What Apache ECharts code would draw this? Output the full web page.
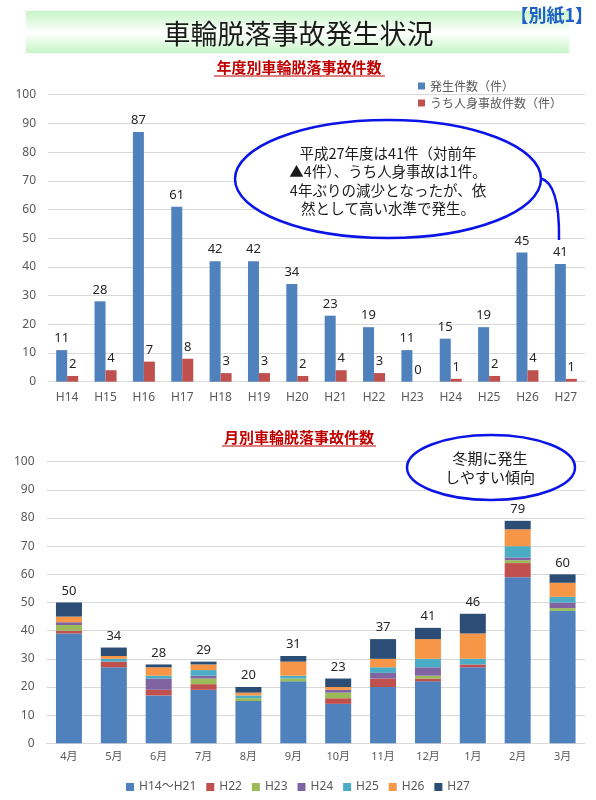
<!DOCTYPE html>
<html><head><meta charset="utf-8">
<script src="https://cdn.jsdelivr.net/npm/echarts@6/dist/echarts.min.js"></script>
<style>html,body{margin:0;padding:0;background:#fff}#c{width:596px;height:800px}</style>
</head><body><div id="c"></div>
<script>
const yearCats = ['H14','H15','H16','H17','H18','H19','H20','H21','H22','H23','H24','H25','H26','H27'];
const yearTotal = [11,28,87,61,42,42,34,23,19,11,15,19,45,41];
const yearInjury = [2,4,7,8,3,3,2,4,3,0,1,2,4,1];
const monthCats = ['4月','5月','6月','7月','8月','9月','10月','11月','12月','1月','2月','3月'];
const mH14_21 = [39,27,17,19,15,22,14,20,22,27,59,47];
const mH22 =    [1,2,2,2,0,0,2,3,1,1,5,0];
const mH23 =    [2,0,0,2,1,1,2,0,1,0,1,1];
const mH24 =    [1,0,4,1,0,0,1,2,3,0,1,2];
const mH25 =    [0,1,1,2,1,1,0,2,3,2,4,2];
const mH26 =    [2,1,3,2,1,5,1,3,7,9,6,5];
const mH27 =    [5,3,1,1,2,2,3,7,4,7,3,3];
const monthTotal = [50,34,28,29,20,31,23,37,41,46,79,60];
const yTicks = [0,10,20,30,40,50,60,70,80,90,100];

const FF = '"Noto Sans", "Noto Sans CJK JP", sans-serif';
const JP = '"Noto Sans CJK JP", sans-serif';
const C = {blue:'#4f81bd', red:'#c0504d', green:'#9bbb59', purple:'#8064a2', cyan:'#4bacc6', orange:'#f79646', navy:'#2c4d75'};

const chart = echarts.init(document.getElementById('c'));
const yAxisCommon = {
  type:'value', min:yTicks[0], max:yTicks[yTicks.length-1], interval:10,
  axisLine:{show:false}, axisTick:{show:false},
  axisLabel:{color:'#595959', fontSize:12, fontFamily:FF, margin:12},
  splitLine:{lineStyle:{color:'#d9d9d9', width:1}}
};
const xAxisCommon = {
  type:'category', axisTick:{show:false},
  axisLine:{lineStyle:{color:'#d9d9d9'}},
  axisLabel:{color:'#595959', fontFamily:FF}
};
const lbl = {show:true, position:'top', distance:5, color:'#262626', fontSize:13, fontFamily:FF};
const stackNames = ['H14〜H21','H22','H23','H24','H25','H26','H27'];
const stackData = [mH14_21,mH22,mH23,mH24,mH25,mH26,mH27];
const stackColors = [C.blue,C.red,C.green,C.purple,C.cyan,C.orange,C.navy];

const monthSeries = stackNames.map((n,i)=>({
  name:n, type:'bar', stack:'m', xAxisIndex:1, yAxisIndex:1, barWidth:26,
  itemStyle:{color:stackColors[i]}, data:stackData[i],
  label: i===6 ? Object.assign({}, lbl, {formatter: p => monthTotal[p.dataIndex]}) : {show:false}
}));

chart.setOption({
  animation:false,
  grid:[
    {left:48, right:11, top:94.7, height:287},
    {left:46.5, right:11, top:461.7, height:281.6}
  ],
  legend:[
    {orient:'vertical', left:413, top:75, itemWidth:7, itemHeight:7, itemGap:5, icon:'rect',
     textStyle:{color:'#595959', fontSize:12, fontFamily:JP},
     data:['発生件数（件）','うち人身事故件数（件）']},
    {orient:'horizontal', left:'center', top:776, itemWidth:8, itemHeight:8, itemGap:10, icon:'rect',
     textStyle:{color:'#595959', fontSize:12, fontFamily:FF},
     data:stackNames}
  ],
  xAxis:[
    Object.assign({}, xAxisCommon, {gridIndex:0, data:yearCats, axisLabel:Object.assign({}, xAxisCommon.axisLabel, {fontSize:12, margin:10})}),
    Object.assign({}, xAxisCommon, {gridIndex:1, data:monthCats, axisLabel:Object.assign({}, xAxisCommon.axisLabel, {fontSize:11, margin:8})})
  ],
  yAxis:[
    Object.assign({}, yAxisCommon, {gridIndex:0}),
    Object.assign({}, yAxisCommon, {gridIndex:1})
  ],
  series:[
    {name:'発生件数（件）', type:'bar', xAxisIndex:0, yAxisIndex:0, barWidth:11, barGap:'0%',
     itemStyle:{color:C.blue}, data:yearTotal, label:lbl},
    {name:'うち人身事故件数（件）', type:'bar', xAxisIndex:0, yAxisIndex:0, barWidth:11, barGap:'0%',
     itemStyle:{color:C.red}, data:yearInjury, label:lbl}
  ].concat(monthSeries),
  graphic:[
    {type:'rect', z:1, shape:{x:26, y:11, width:543, height:42},
     style:{fill:{type:'linear', x:0, y:0, x2:0, y2:1, colorStops:[
       {offset:0, color:'#c6f5c6'},{offset:0.52, color:'#ffffff'},{offset:1, color:'#c6f5c6'}]}}},
    {type:'text', z:2, style:{text:'車輪脱落事故発生状況', x:298.5, y:34, align:'center', verticalAlign:'middle',
      fontSize:27, fontFamily:JP, fill:'#1a1a1a'}},
    {type:'text', z:3, style:{text:'【別紙1】', x:593, y:15, align:'right', verticalAlign:'middle',
      fontSize:18, fontWeight:'bold', fontFamily:JP, fill:'#1f5fc8'}},
    {type:'text', z:2, style:{text:'年度別車輪脱落事故件数', x:299, y:67, align:'center', verticalAlign:'middle',
      fontSize:15, fontWeight:'bold', fontFamily:JP, fill:'#c00000'}},
    {type:'line', z:2, shape:{x1:214, y1:76, x2:385, y2:76}, style:{stroke:'#c00000', lineWidth:1.2}},
    {type:'text', z:2, style:{text:'月別車輪脱落事故件数', x:299, y:437, align:'center', verticalAlign:'middle',
      fontSize:15, fontWeight:'bold', fontFamily:JP, fill:'#c00000'}},
    {type:'line', z:2, shape:{x1:222, y1:446, x2:376, y2:446}, style:{stroke:'#c00000', lineWidth:1.2}},
    {type:'bezierCurve', z:20, shape:{x1:540, y1:178, x2:559, y2:240, cpx1:560, cpy1:183}, style:{stroke:'#0a14e6', lineWidth:2.5, fill:null}},
    {type:'ellipse', z:21, shape:{cx:388, cy:179, rx:153, ry:59}, style:{fill:'#ffffff', stroke:'#0a14e6', lineWidth:2.5}},
    {type:'text', z:22, style:{text:'平成27年度は41件（対前年\n▲4件）、うち人身事故は1件。\n4年ぶりの減少となったが、依\n然として高い水準で発生。',
      x:388, y:181, align:'center', verticalAlign:'middle', fontSize:14.5, lineHeight:18.5, fontFamily:JP, fill:'#1a1a1a'}},
    {type:'ellipse', z:21, shape:{cx:491, cy:467.5, rx:84, ry:32.5}, style:{fill:'#ffffff', stroke:'#0a14e6', lineWidth:2.5}},
    {type:'text', z:22, style:{text:'冬期に発生\nしやすい傾向', x:490, y:468, align:'center', verticalAlign:'middle',
      fontSize:15, lineHeight:18.5, fontFamily:JP, fill:'#1a1a1a'}}
  ]
});
</script></body></html>
